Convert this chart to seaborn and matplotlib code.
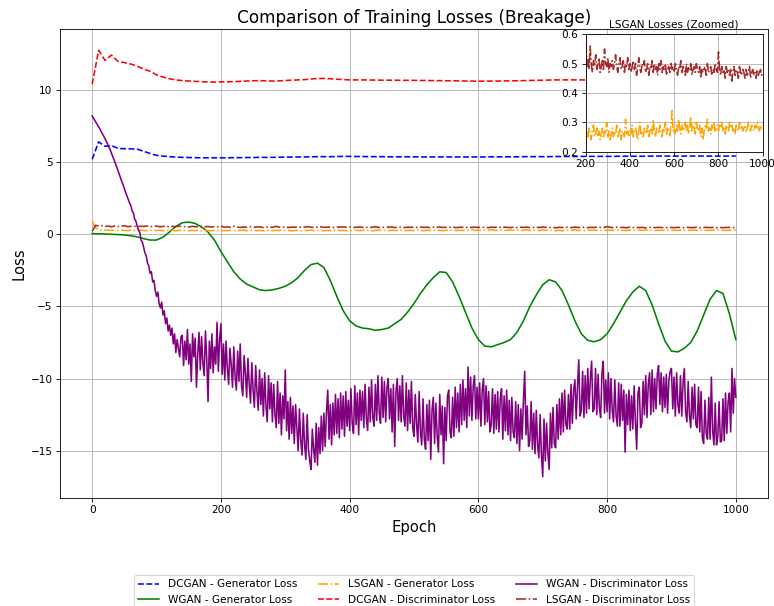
import numpy as np
import matplotlib
matplotlib.use("Agg")
import matplotlib.pyplot as plt
import seaborn as sns
from mpl_toolkits.axes_grid1.inset_locator import inset_axes

# Epoch grids: smooth curves logged every 10 epochs, noisy ones more often
epochs_10 = np.arange(0, 1001, 10)
epochs_5 = np.arange(0, 1001, 5)
epochs_2 = np.arange(0, 1001, 2)

dcgan_gen = [
    5.2, 6.4, 6.1, 6.15, 5.95, 5.93, 5.92, 5.9, 5.75, 5.6,
    5.47, 5.42, 5.38, 5.35, 5.33, 5.32, 5.31, 5.3, 5.3, 5.3,
    5.3, 5.3, 5.31, 5.31, 5.32, 5.32, 5.33, 5.33, 5.33, 5.34,
    5.35, 5.35, 5.36, 5.36, 5.37, 5.38, 5.38, 5.38, 5.39, 5.4,
    5.4, 5.39, 5.39, 5.38, 5.38, 5.38, 5.37, 5.37, 5.37, 5.37,
    5.37, 5.36, 5.36, 5.36, 5.36, 5.36, 5.36, 5.36, 5.36, 5.36,
    5.36, 5.36, 5.37, 5.37, 5.37, 5.37, 5.37, 5.38, 5.38, 5.38,
    5.38, 5.38, 5.39, 5.39, 5.39, 5.39, 5.4, 5.4, 5.4, 5.4,
    5.4, 5.4, 5.41, 5.41, 5.41, 5.41, 5.41, 5.42, 5.42, 5.42,
    5.42, 5.42, 5.42, 5.42, 5.42, 5.42, 5.42, 5.42, 5.42, 5.42,
    5.42,
]

dcgan_disc = [
    10.4, 12.75, 12.05, 12.42, 11.98, 11.9, 11.8, 11.65, 11.45, 11.3,
    11.05, 10.9, 10.78, 10.7, 10.65, 10.62, 10.6, 10.58, 10.55, 10.55,
    10.56, 10.57, 10.58, 10.6, 10.62, 10.64, 10.65, 10.63, 10.62, 10.63,
    10.66, 10.68, 10.7, 10.72, 10.76, 10.8, 10.8, 10.78, 10.75, 10.72,
    10.7, 10.7, 10.7, 10.69, 10.69, 10.68, 10.68, 10.68, 10.67, 10.67,
    10.67, 10.66, 10.66, 10.65, 10.65, 10.64, 10.64, 10.63, 10.62, 10.62,
    10.61, 10.61, 10.62, 10.62, 10.63, 10.63, 10.64, 10.65, 10.66, 10.67,
    10.68, 10.69, 10.7, 10.7, 10.7, 10.7, 10.7, 10.69, 10.69, 10.68,
    10.68, 10.68, 10.67, 10.67, 10.67, 10.66, 10.66, 10.66, 10.66, 10.66,
    10.65, 10.65, 10.65, 10.65, 10.65, 10.65, 10.65, 10.65, 10.65, 10.65,
    10.65,
]

wgan_gen = [
    0.05, 0.03, 0.02, 0.0, -0.02, -0.05, -0.1, -0.18, -0.3, -0.4,
    -0.4, -0.2, 0.15, 0.55, 0.8, 0.85, 0.75, 0.5, 0.15, -0.4,
    -1.2, -1.9, -2.6, -3.1, -3.45, -3.65, -3.85, -3.9, -3.85, -3.75,
    -3.6, -3.35, -3.0, -2.5, -2.1, -2.0, -2.3, -3.2, -4.3, -5.3,
    -6.0, -6.35, -6.5, -6.55, -6.65, -6.6, -6.5, -6.2, -5.9, -5.4,
    -4.8, -4.1, -3.5, -3.0, -2.6, -2.65, -3.3, -4.3, -5.4, -6.5,
    -7.3, -7.75, -7.8, -7.65, -7.5, -7.3, -6.8, -6.0, -5.0, -4.2,
    -3.5, -3.15, -3.3, -3.9, -4.9, -6.0, -6.9, -7.35, -7.45, -7.3,
    -6.9, -6.2, -5.4, -4.6, -4.0, -3.6, -3.9, -4.9, -6.2, -7.4,
    -8.1, -8.15, -7.9, -7.5, -6.7, -5.6, -4.5, -3.9, -4.1, -5.5,
    -7.3,
]

wgan_disc = [
    8.2, 8.05, 7.9, 7.75, 7.6, 7.45, 7.3, 7.12, 6.95, 6.8,
    6.62, 6.45, 6.25, 6.05, 5.85, 5.62, 5.4, 5.17, 4.92, 4.68,
    4.42, 4.18, 3.92, 3.66, 3.42, 3.18, 2.9, 2.65, 2.42, 2.18,
    2.0, 1.62, 1.5, 1.05, 0.9, 0.55, 0.3, 0.1, -0.4, -0.55,
    -0.9, -1.3, -1.5, -2.0, -2.2, -2.7, -2.6, -3.3, -3.2, -3.9,
    -4.3, -4.0, -4.8, -5.1, -4.7, -5.6, -5.3, -6.2, -5.8, -6.7,
    -6.3, -7.0, -6.5, -7.6, -6.9, -8.2, -7.3, -7.9, -8.5, -7.1,
    -7.0, -9.1, -7.4, -8.7, -6.6, -9.0, -7.6, -10.2, -6.9, -8.5,
    -7.2, -10.6, -8.3, -6.8, -9.4, -7.1, -8.9, -9.8, -6.7, -8.6,
    -11.6, -7.4, -9.3, -6.9, -9.6, -7.8, -9.0, -6.1, -9.5, -7.3,
    -6.2, -9.7, -7.6, -10.1, -7.4, -9.3, -10.4, -7.9, -9.0, -10.6,
    -7.8, -9.9, -10.8, -8.1, -10.2, -7.6, -10.5, -11.2, -8.4, -9.6,
    -11.3, -8.6, -10.4, -11.7, -8.9, -10.8, -12.0, -9.1, -10.9, -12.2,
    -9.4, -11.8, -10.0, -12.6, -9.6, -11.9, -13.0, -9.8, -12.1, -10.3,
    -13.0, -10.4, -12.5, -13.4, -10.2, -13.1, -11.0, -13.9, -11.2, -12.8,
    -9.4, -13.6, -11.6, -14.2, -11.3, -13.8, -11.9, -14.5, -11.8, -13.4,
    -15.0, -12.1, -14.3, -15.3, -12.4, -14.6, -15.6, -12.5, -14.9, -15.7,
    -16.3, -13.5, -14.9, -15.8, -13.1, -16.0, -13.4, -15.2, -12.6, -15.0,
    -12.4, -14.7, -12.3, -10.8, -14.2, -11.8, -14.6, -11.7, -13.9, -11.1,
    -13.8, -11.4, -14.1, -11.0, -13.5, -11.2, -14.0, -10.9, -13.3, -11.5,
    -13.6, -10.7, -13.1, -13.8, -10.5, -13.2, -11.0, -13.9, -10.8, -12.9,
    -10.9, -13.4, -10.4, -12.8, -13.6, -10.6, -13.0, -10.1, -12.7, -13.3,
    -10.4, -12.9, -9.8, -12.4, -13.1, -9.9, -12.7, -10.2, -13.0, -10.6,
    -10.0, -12.8, -10.7, -13.7, -10.4, -14.7, -10.9, -10.0, -12.9, -10.5,
    -13.0, -9.8, -12.6, -13.3, -10.3, -13.6, -10.8, -13.1, -10.2, -13.4,
    -14.0, -11.1, -13.2, -14.4, -10.9, -13.7, -14.6, -11.4, -14.2, -14.9,
    -11.8, -14.3, -11.5, -15.6, -12.2, -11.3, -14.5, -11.7, -14.0, -15.1,
    -11.1, -13.9, -11.9, -15.9, -12.0, -14.3, -11.2, -10.8, -13.7, -14.1,
    -11.3, -14.0, -10.6, -13.4, -11.0, -13.7, -10.4, -13.2, -10.1, -12.9,
    -10.7, -13.4, -9.2, -12.6, -9.9, -12.9, -10.5, -9.8, -12.8, -10.6,
    -12.8, -10.3, -13.3, -10.8, -10.0, -13.2, -10.5, -13.0, -10.9, -13.7,
    -13.2, -10.7, -13.8, -11.1, -13.5, -10.9, -13.7, -11.4, -10.7, -14.2,
    -11.2, -13.6, -10.8, -13.9, -11.5, -14.3, -11.3, -13.7, -14.1, -11.6,
    -14.5, -11.8, -15.0, -12.1, -14.2, -11.5, -9.5, -13.9, -11.9, -14.7,
    -14.3, -11.6, -14.9, -12.4, -15.2, -12.2, -14.6, -15.5, -12.5, -15.3,
    -16.8, -12.8, -15.7, -13.1, -15.2, -16.3, -12.4, -14.8, -12.0, -14.5,
    -14.8, -11.8, -14.2, -11.4, -13.9, -11.0, -13.7, -10.8, -13.2, -13.5,
    -11.1, -13.5, -10.4, -13.1, -10.8, -10.1, -12.8, -10.6, -8.7, -12.6,
    -12.2, -9.5, -12.7, -9.8, -12.4, -9.3, -12.1, -10.0, -8.8, -12.3,
    -12.1, -9.3, -12.5, -9.7, -12.0, -12.7, -9.6, -8.8, -12.4, -10.1,
    -12.3, -9.6, -12.8, -10.0, -12.2, -13.0, -10.1, -12.6, -13.3, -10.3,
    -13.3, -10.4, -12.9, -10.8, -15.1, -11.1, -13.2, -10.8, -13.6, -11.2,
    -13.5, -10.5, -13.0, -14.9, -11.0, -10.6, -13.4, -13.1, -10.2, -12.5,
    -9.8, -12.7, -10.4, -9.6, -12.5, -9.4, -12.3, -10.0, -12.1, -9.7,
    -9.1, -11.8, -9.6, -12.3, -9.9, -12.0, -9.7, -12.4, -10.1, -9.5,
    -9.3, -12.1, -9.9, -12.6, -9.6, -11.8, -12.4, -9.8, -12.6, -10.3,
    -9.3, -12.3, -13.0, -10.2, -12.6, -13.4, -10.6, -12.8, -10.4, -13.2,
    -13.4, -10.6, -13.7, -10.9, -14.1, -14.5, -11.5, -13.8, -14.2, -11.3,
    -14.2, -9.9, -13.6, -14.6, -11.7, -14.6, -14.0, -11.6, -14.4, -14.3,
    -11.4, -14.3, -11.0, -13.8, -11.6, -11.0, -13.7, -9.3, -12.4, -10.0,
    -11.3,
]

lsgan_gen = [
    0.92, 0.45, 0.33, 0.30, 0.29, 0.28, 0.27, 0.29, 0.26, 0.28,
    0.27, 0.25, 0.28, 0.26, 0.27, 0.29, 0.26, 0.25, 0.27, 0.28,
    0.26, 0.27, 0.25, 0.28, 0.26, 0.27, 0.24, 0.27, 0.28, 0.26,
    0.25, 0.27, 0.26, 0.28, 0.25, 0.27, 0.26, 0.24, 0.27, 0.26,
    0.23, 0.27, 0.25, 0.28, 0.26, 0.24, 0.27, 0.29, 0.25, 0.26,
    0.28, 0.25, 0.27, 0.24, 0.26, 0.28, 0.25, 0.27, 0.26, 0.30,
    0.25, 0.27, 0.24, 0.26, 0.28, 0.25, 0.27, 0.26, 0.29, 0.25,
    0.26, 0.28, 0.24, 0.27, 0.26, 0.25, 0.31, 0.26, 0.27, 0.25,
    0.27, 0.26, 0.29, 0.25, 0.27, 0.28, 0.26, 0.24, 0.27, 0.30,
    0.26, 0.27, 0.25, 0.28, 0.27, 0.26, 0.29, 0.25, 0.27, 0.28,
    0.26, 0.31, 0.27, 0.25, 0.28, 0.27, 0.26, 0.29, 0.27, 0.25,
    0.28, 0.27, 0.30, 0.26, 0.28, 0.27, 0.25, 0.29, 0.34, 0.27,
    0.28, 0.26, 0.29, 0.27, 0.31, 0.28, 0.26, 0.29, 0.27, 0.28,
    0.30, 0.27, 0.29, 0.26, 0.28, 0.32, 0.27, 0.29, 0.28, 0.26,
    0.30, 0.28, 0.27, 0.29, 0.25, 0.28, 0.24, 0.27, 0.29, 0.28,
    0.31, 0.27, 0.28, 0.26, 0.29, 0.28, 0.30, 0.27, 0.28, 0.29,
    0.27, 0.29, 0.28, 0.30, 0.27, 0.28, 0.26, 0.29, 0.28, 0.27,
    0.30, 0.28, 0.29, 0.27, 0.28, 0.26, 0.29, 0.28, 0.27, 0.30,
    0.28, 0.29, 0.27, 0.28, 0.29, 0.27, 0.28, 0.30, 0.28, 0.27,
    0.29, 0.28, 0.27, 0.29, 0.28, 0.30, 0.28, 0.27, 0.29, 0.28,
    0.29,
]

lsgan_disc = [
    0.20, 0.62, 0.58, 0.60, 0.55, 0.57, 0.52, 0.58, 0.54, 0.56,
    0.60, 0.53, 0.55, 0.57, 0.52, 0.56, 0.54, 0.58, 0.53, 0.55,
    0.57, 0.52, 0.54, 0.56, 0.51, 0.55, 0.53, 0.57, 0.52, 0.54,
    0.50, 0.55, 0.53, 0.51, 0.56, 0.52, 0.54, 0.50, 0.53, 0.51,
    0.57, 0.49, 0.52, 0.48, 0.56, 0.50, 0.47, 0.51, 0.49, 0.53,
    0.48, 0.50, 0.52, 0.47, 0.49, 0.51, 0.48, 0.55, 0.50, 0.49,
    0.52, 0.47, 0.50, 0.49, 0.51, 0.48, 0.50, 0.53, 0.49, 0.47,
    0.50, 0.52, 0.48, 0.49, 0.51, 0.47, 0.50, 0.49, 0.52, 0.48,
    0.50, 0.47, 0.49, 0.51, 0.48, 0.50, 0.46, 0.49, 0.52, 0.48,
    0.47, 0.50, 0.49, 0.51, 0.47, 0.48, 0.50, 0.46, 0.49, 0.48,
    0.51, 0.47, 0.50, 0.48, 0.49, 0.46, 0.50, 0.48, 0.51, 0.47,
    0.49, 0.48, 0.50, 0.46, 0.48, 0.49, 0.47, 0.50, 0.48, 0.49,
    0.47, 0.50, 0.48, 0.46, 0.49, 0.48, 0.51, 0.47, 0.49, 0.48,
    0.46, 0.50, 0.47, 0.49, 0.48, 0.50, 0.46, 0.48, 0.49, 0.47,
    0.50, 0.48, 0.47, 0.49, 0.45, 0.48, 0.47, 0.49, 0.48, 0.46,
    0.50, 0.47, 0.48, 0.49, 0.46, 0.48, 0.47, 0.50, 0.48, 0.47,
    0.54, 0.48, 0.46, 0.49, 0.47, 0.48, 0.45, 0.49, 0.47, 0.48,
    0.46, 0.48, 0.44, 0.47, 0.49, 0.46, 0.48, 0.47, 0.45, 0.49,
    0.47, 0.46, 0.48, 0.47, 0.45, 0.48, 0.46, 0.47, 0.49, 0.45,
    0.47, 0.48, 0.46, 0.47, 0.45, 0.48, 0.46, 0.47, 0.48, 0.46,
    0.47,
]

DPI = 76
fig = plt.figure(figsize=(774 / DPI, 606 / DPI), dpi=DPI)
ax = fig.add_axes([60 / 774, 1 - 498 / 606, 708 / 774, 469 / 606])

series = [
    (epochs_10, dcgan_gen, "DCGAN - Generator Loss", "blue", "--"),
    (epochs_10, wgan_gen, "WGAN - Generator Loss", "green", "-"),
    (epochs_5, lsgan_gen, "LSGAN - Generator Loss", "orange", "-."),
    (epochs_10, dcgan_disc, "DCGAN - Discriminator Loss", "red", "--"),
    (epochs_2, wgan_disc, "WGAN - Discriminator Loss", "purple", "-"),
    (epochs_5, lsgan_disc, "LSGAN - Discriminator Loss", "brown", "-."),
]
for x, y, label, color, ls in series:
    sns.lineplot(x=x, y=y, ax=ax, color=color, linestyle=ls, label=label,
                 linewidth=1.5)

ax.set_title("Comparison of Training Losses (Breakage)", fontsize=16)
ax.set_xlabel("Epoch", fontsize=14)
ax.set_ylabel("Loss", fontsize=14)
ax.grid(True)
ax.legend(loc="upper center", bbox_to_anchor=(0.5, -0.153), ncol=3,
          fontsize=10)

# Zoomed view of the two LSGAN curves
ax_in = inset_axes(ax, width="25%", height="25%", loc="upper right")
mask = epochs_5 >= 200
sns.lineplot(x=epochs_5[mask], y=np.array(lsgan_gen)[mask], ax=ax_in,
             color="orange", linestyle="-.", linewidth=1.5)
sns.lineplot(x=epochs_5[mask], y=np.array(lsgan_disc)[mask], ax=ax_in,
             color="brown", linestyle="-.", linewidth=1.5)
ax_in.set_xlim(200, 1000)
ax_in.set_ylim(0.2, 0.6)
ax_in.set_title("LSGAN Losses (Zoomed)", fontsize=10)
ax_in.set_xlabel("")
ax_in.set_ylabel("")
ax_in.grid(True)

fig.savefig("out.png", dpi=DPI)
